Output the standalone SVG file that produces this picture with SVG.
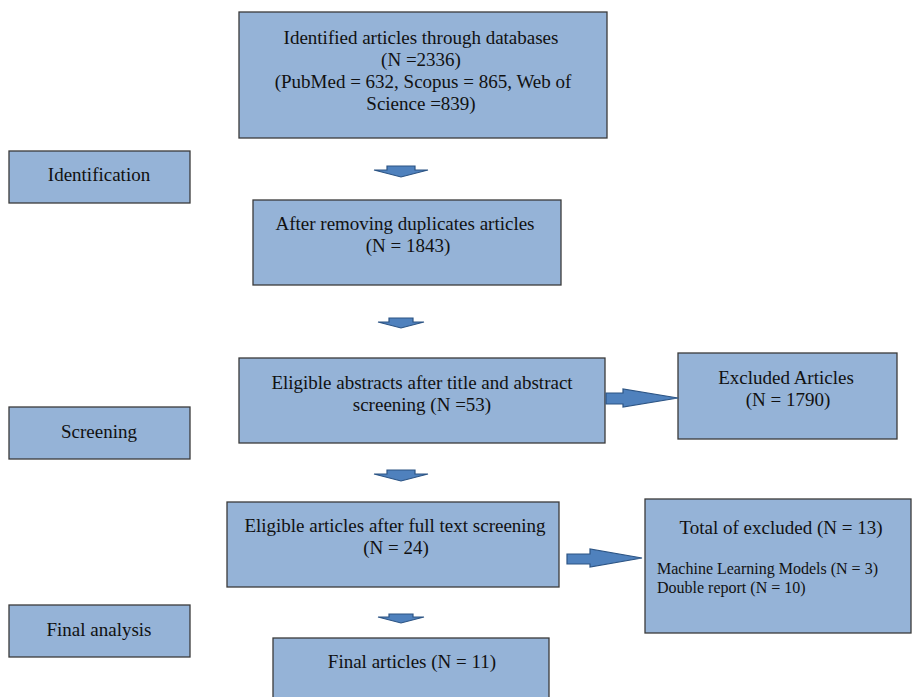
<svg xmlns="http://www.w3.org/2000/svg" width="912" height="697" viewBox="0 0 912 697">
<style>
.box{fill:#95b3d7;stroke:#3b3b3b;stroke-width:1.3}
text{font-family:"Liberation Serif","Times New Roman",serif;font-size:19px;fill:#111;text-anchor:middle}
.sm{font-size:16px;text-anchor:start}
.arr{fill:#4f81bd;stroke:#2c5484;stroke-width:1.2}
</style>
<rect width="912" height="697" fill="#fff"/>
<g id="identified"><rect class="box" x="239" y="12" width="368" height="126"/>
<text x="421" y="44">Identified articles through databases</text>
<text x="421" y="66">(N =2336)</text>
<text x="423" y="88">(PubMed = 632, Scopus = 865, Web of</text>
<text x="421" y="110">Science =839)</text></g>
<g id="identification"><rect class="box" x="9" y="151" width="181" height="52"/><text x="99" y="181">Identification</text></g>
<g id="dedup"><rect class="box" x="253" y="200" width="308" height="85"/>
<text x="405" y="230">After removing duplicates articles</text>
<text x="408" y="252">(N = 1843)</text></g>
<g id="abstracts"><rect class="box" x="239" y="358" width="366" height="85"/>
<text x="422" y="389">Eligible abstracts after title and abstract</text>
<text x="422" y="411">screening (N =53)</text></g>
<g id="excluded"><rect class="box" x="678" y="353" width="219" height="86"/>
<text x="786" y="384">Excluded Articles</text>
<text x="788" y="406">(N = 1790)</text></g>
<g id="screening"><rect class="box" x="9" y="407" width="181" height="52"/><text x="99" y="438">Screening</text></g>
<g id="fulltext"><rect class="box" x="227" y="502" width="332" height="85"/>
<text x="395" y="532">Eligible articles after full text screening</text>
<text x="396" y="554">(N = 24)</text></g>
<g id="total-excluded"><rect class="box" x="645" y="499" width="266" height="134"/>
<text x="781" y="534">Total of excluded (N = 13)</text>
<text class="sm" x="657" y="574">Machine Learning Models (N = 3)</text>
<text class="sm" x="657" y="593">Double report (N = 10)</text></g>
<g id="final-analysis"><rect class="box" x="9" y="605" width="181" height="52"/><text x="99" y="636">Final analysis</text></g>
<g id="final"><rect class="box" x="273" y="638" width="276" height="70"/>
<text x="412" y="668">Final articles (N = 11)</text></g>
<g id="connectors">
<polygon class="arr" points="387,166 415,166 415,170 428,170 401,177 374,170 387,170"/>
<polygon class="arr" points="389,318 413,318 413,322 424,322 401,328 378,322 389,322"/>
<polygon class="arr" points="387,470 415,470 415,474 428,474 401,481 374,474 387,474"/>
<polygon class="arr" points="389,614 413,614 413,617 424,617 401,623 378,617 389,617"/>
<polygon class="arr" points="606,393 623,393 623,389 678,398 623,407 623,404 606,404"/>
<polygon class="arr" points="567,554 590,554 590,549 642,558 590,567 590,564 567,564"/>
</g>
</svg>
